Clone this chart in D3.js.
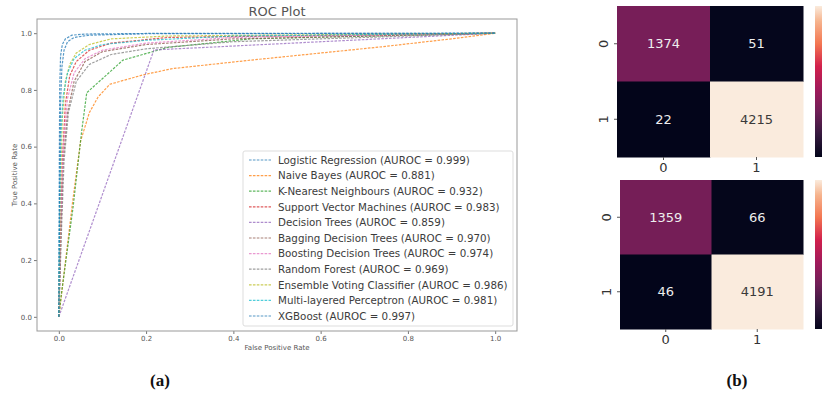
<!DOCTYPE html>
<html>
<head>
<meta charset="utf-8">
<script src="https://cdn.jsdelivr.net/npm/d3@7"></script>
<style>
  body { margin: 0; background: #fff; }
  svg { display: block; font-family: "DejaVu Sans", sans-serif; }
</style>
</head>
<body>
<svg id="chart" width="822" height="396"></svg>
<script>
// model names and scores, in plotting order
const modelNames = ['Logistic Regression', 'Naive Bayes', 'K-Nearest Neighbours', 'Support Vector Machines',
  'Decision Trees', 'Bagging Decision Trees', 'Boosting Decision Trees', 'Random Forest',
  'Ensemble Voting Classifier', 'Multi-layered Perceptron', 'XGBoost']
const aurocValues = [0.999, 0.881, 0.932, 0.983, 0.859, 0.970, 0.974, 0.969, 0.986, 0.981, 0.997]

// ROC points, [fpr, tpr]
const rocLogistic = [[0, 0], [0.001, 0.5], [0.002, 0.8], [0.004, 0.92], [0.008, 0.96], [0.015, 0.98], [0.03, 0.993], [0.06, 0.997], [0.2, 0.999], [1, 1]]
const rocNaiveBayes = [[0, 0], [0.007, 0.09], [0.032, 0.41], [0.05, 0.62], [0.07, 0.72], [0.09, 0.775], [0.117, 0.82], [0.193, 0.853], [0.26, 0.875], [0.44, 0.905], [0.6, 0.93], [0.74, 0.952], [0.9, 0.98], [1, 1]]
const rocKnn = [[0, 0], [0.005, 0.07], [0.033, 0.39], [0.052, 0.65], [0.064, 0.79], [0.147, 0.905], [0.25, 0.95], [0.44, 0.98], [1, 1]]
const rocSvm = [[0, 0], [0.004, 0.3], [0.008, 0.55], [0.015, 0.75], [0.025, 0.85], [0.04, 0.9], [0.07, 0.94], [0.12, 0.965], [0.25, 0.985], [1, 1]]
const rocDecisionTree = [[0, 0], [0.218, 0.941], [1, 1]]
const rocBagging = [[0, 0], [0.005, 0.3], [0.01, 0.55], [0.02, 0.72], [0.035, 0.83], [0.06, 0.9], [0.1, 0.935], [0.2, 0.96], [0.4, 0.98], [1, 1]]
const rocBoosting = [[0, 0], [0.005, 0.35], [0.01, 0.6], [0.02, 0.77], [0.035, 0.86], [0.06, 0.91], [0.1, 0.94], [0.2, 0.965], [0.4, 0.985], [1, 1]]
const rocRandomForest = [[0, 0], [0.006, 0.3], [0.012, 0.55], [0.022, 0.72], [0.04, 0.83], [0.07, 0.89], [0.12, 0.925], [0.2, 0.945], [0.4, 0.97], [1, 1]]
const rocEnsemble = [[0, 0], [0.003, 0.4], [0.008, 0.7], [0.015, 0.83], [0.025, 0.89], [0.04, 0.93], [0.07, 0.96], [0.12, 0.98], [0.25, 0.99], [1, 1]]
const rocMlp = [[0, 0], [0.002, 0.4], [0.005, 0.65], [0.01, 0.78], [0.02, 0.86], [0.035, 0.91], [0.06, 0.94], [0.1, 0.96], [0.2, 0.975], [0.4, 0.99], [1, 1]]
const rocXgb = [[0, 0], [0.002, 0.45], [0.004, 0.75], [0.007, 0.88], [0.012, 0.94], [0.02, 0.97], [0.035, 0.985], [0.07, 0.993], [0.2, 0.998], [1, 1]]
const rocCurves = [rocLogistic, rocNaiveBayes, rocKnn, rocSvm, rocDecisionTree, rocBagging, rocBoosting,
  rocRandomForest, rocEnsemble, rocMlp, rocXgb]

const rocTicks = [0, 0.2, 0.4, 0.6, 0.8, 1.0]

// confusion matrices
const cmLabels = ['0', '1']
const cmTop = [[1374, 51], [22, 4215]]
const cmBottom = [[1359, 66], [46, 4191]]

const tab10 = ['#1f77b4', '#ff7f0e', '#2ca02c', '#d62728', '#9467bd', '#8c564b', '#e377c2', '#7f7f7f', '#bcbd22', '#17becf']

const svg = d3.select('#chart')

/* ---------- ROC plot ---------- */
const x = d3.scaleLinear().domain([-0.05, 1.05]).range([37, 517])
const y = d3.scaleLinear().domain([-0.05, 1.05]).range([331, 19])

svg.append('text')
  .attr('x', 277).attr('y', 16)
  .attr('text-anchor', 'middle')
  .attr('font-size', 13).attr('fill', '#555')
  .text('ROC Plot')

const xAxis = svg.append('g')
  .attr('transform', 'translate(0,331)')
  .call(d3.axisBottom(x).tickValues(rocTicks).tickFormat(d3.format('.1f')).tickSize(3).tickPadding(2))
const yAxis = svg.append('g')
  .attr('transform', 'translate(37,0)')
  .call(d3.axisLeft(y).tickValues(rocTicks).tickFormat(d3.format('.1f')).tickSize(3).tickPadding(2))
;[xAxis, yAxis].forEach(ax => {
  ax.select('.domain').remove()
  ax.selectAll('line').attr('stroke', '#777')
  ax.selectAll('text').attr('fill', '#555').attr('font-size', 7).attr('font-family', '"DejaVu Sans", sans-serif')
})

svg.append('text')
  .attr('x', 277).attr('y', 350)
  .attr('text-anchor', 'middle').attr('font-size', 7).attr('fill', '#555')
  .text('False Positive Rate')
svg.append('text')
  .attr('transform', 'translate(17,175) rotate(-90)')
  .attr('text-anchor', 'middle').attr('font-size', 7).attr('fill', '#555')
  .text('True Positive Rate')

const line = d3.line().x(d => x(d[0])).y(d => y(d[1]))

rocCurves.forEach((pts, i) => {
  svg.append('path')
    .attr('d', line(pts))
    .attr('fill', 'none')
    .attr('stroke', tab10[i % 10])
    .attr('stroke-width', 1.2)
    .attr('stroke-dasharray', '2.6,1.3')
    .attr('opacity', 0.75)
})

svg.append('rect')
  .attr('x', 37).attr('y', 19).attr('width', 480).attr('height', 312)
  .attr('fill', 'none').attr('stroke', '#999').attr('stroke-width', 1)

// legend
const legend = svg.append('g')
legend.append('rect')
  .attr('x', 243).attr('y', 151).attr('width', 270).attr('height', 175).attr('rx', 2)
  .attr('fill', '#fff').attr('fill-opacity', 0.85).attr('stroke', '#ddd')
modelNames.forEach((name, i) => {
  const cy = 160 + i * 15.6
  legend.append('line')
    .attr('x1', 249).attr('x2', 271).attr('y1', cy).attr('y2', cy)
    .attr('stroke', tab10[i % 10]).attr('stroke-width', 1.2)
    .attr('stroke-dasharray', '2.6,1.3').attr('opacity', 0.75)
  legend.append('text')
    .attr('x', 278).attr('y', cy + 3.7)
    .attr('font-size', 10.3).attr('fill', '#3c3c3c')
    .text(`${name} (AUROC = ${aurocValues[i].toFixed(3)})`)
})

/* ---------- confusion matrices ---------- */
const rocketStops = [0, 0.15, 0.3, 0.45, 0.6, 0.75, 0.9, 1]
const rocketColors = ['#03051a', '#35193e', '#701f57', '#a11a5b', '#d2204c', '#f37651', '#f6b48e', '#faebdd']

function heatmap(data, left, top, right, bottom) {
  const g = svg.append('g')
  const flat = data.flat()
  const lo = d3.min(flat), hi = d3.max(flat)
  const frac = d3.scaleLinear().domain([lo, hi]).range([0, 1])
  const color = d3.scaleLinear().domain(rocketStops).range(rocketColors)
  const cx = d3.scaleBand().domain(cmLabels).range([left, right])
  const cy = d3.scaleBand().domain(cmLabels).range([top, bottom])

  data.forEach((row, r) => {
    row.forEach((v, c) => {
      const f = frac(v)
      g.append('rect')
        .attr('x', cx(cmLabels[c])).attr('y', cy(cmLabels[r]))
        .attr('width', cx.bandwidth() + 0.5).attr('height', cy.bandwidth() + 0.5)
        .attr('fill', color(f))
      g.append('text')
        .attr('x', cx(cmLabels[c]) + cx.bandwidth() / 2)
        .attr('y', cy(cmLabels[r]) + cy.bandwidth() / 2 + 4.5)
        .attr('text-anchor', 'middle').attr('font-size', 13)
        .attr('fill', f > 0.6 ? '#3a3a3a' : '#eeeeee')
        .text(v)
    })
  })

  const xa = g.append('g').attr('transform', `translate(0,${bottom})`)
    .call(d3.axisBottom(cx).tickSize(3).tickPadding(3))
  const ya = g.append('g').attr('transform', `translate(${left},0)`)
    .call(d3.axisLeft(cy).tickSize(3).tickPadding(3))
  ;[xa, ya].forEach(ax => {
    ax.select('.domain').remove()
    ax.selectAll('line').attr('stroke', '#555')
    ax.selectAll('text').attr('fill', '#333').attr('font-size', 13).attr('font-family', '"DejaVu Sans", sans-serif')
  })
  ya.selectAll('text')
    .attr('text-anchor', 'middle').attr('x', 0).attr('y', 0)
    .attr('transform', 'translate(-14,0) rotate(-90)').attr('dy', '0.35em')

  // colorbar (mostly cut off at the right edge)
  const gradId = 'grad' + top
  const grad = svg.append('defs').append('linearGradient')
    .attr('id', gradId).attr('x1', 0).attr('x2', 0).attr('y1', 1).attr('y2', 0)
  rocketStops.forEach((s, i) => grad.append('stop').attr('offset', s).attr('stop-color', rocketColors[i]))
  g.append('rect')
    .attr('x', 815).attr('y', top).attr('width', 10).attr('height', bottom - top)
    .attr('fill', `url(#${gradId})`)
}

heatmap(cmTop, 617, 6, 803, 157)
heatmap(cmBottom, 620, 180, 803, 329)

// panel captions
svg.append('text')
  .attr('x', 160).attr('y', 386).attr('text-anchor', 'middle')
  .attr('font-family', '"Liberation Serif", "Times New Roman", serif')
  .attr('font-weight', 'bold').attr('font-size', 17).attr('fill', '#111')
  .text('(a)')
svg.append('text')
  .attr('x', 737).attr('y', 386).attr('text-anchor', 'middle')
  .attr('font-family', '"Liberation Serif", "Times New Roman", serif')
  .attr('font-weight', 'bold').attr('font-size', 17).attr('fill', '#111')
  .text('(b)')
</script>
</body>
</html>
